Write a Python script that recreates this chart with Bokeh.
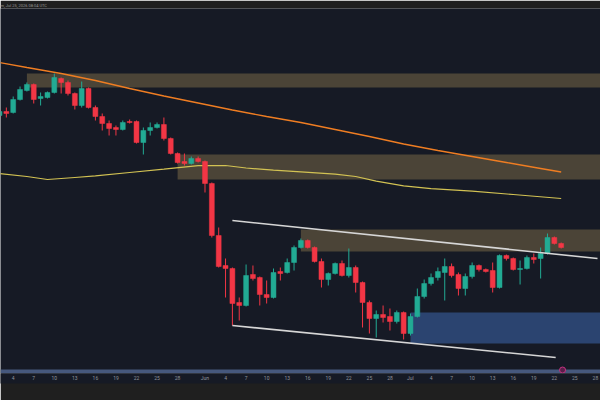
from bokeh.plotting import figure
from bokeh.models import ColumnDataSource, Range1d, FixedTicker
from bokeh.embed import file_html
from bokeh.resources import INLINE

# ---- data (day index: May 1 = 0) ----
days = list(range(1, 84))
opens = [258, 262, 261, 274, 283, 289, 275, 276, 281, 295, 291, 280, 268, 285, 266, 257, 250, 246, 244, 252,
         252, 231, 243, 246, 249, 235, 220, 212, 210, 215, 212, 190, 138, 108, 105, 71, 68, 99, 96, 79,
         76, 102, 101, 111, 126, 133, 126, 112, 94, 100, 110, 98, 106, 91, 71, 55, 59, 57, 52, 61,
         40, 57, 77, 90, 96, 101, 107, 99, 85, 97, 108, 104, 103, 86, 118, 115, 104, 105, 116, 115,
         120, 136, 130]
highs = [265, 266, 277, 287, 291, 290, 281, 282, 300, 296, 293, 281, 292, 286, 268, 260, 253, 248, 253, 254,
         253, 246, 251, 251, 256, 236, 221, 220, 217, 217, 213, 191, 146, 115, 106, 76, 109, 108, 97, 93,
         105, 106, 115, 128, 135, 134, 127, 115, 101, 111, 113, 125, 108, 92, 73, 63, 68, 65, 63, 62,
         60, 85, 94, 100, 106, 115, 110, 101, 100, 111, 109, 105, 111, 119, 119, 116, 113, 118, 120, 126,
         140, 137, 131]
lows = [256, 256, 260, 273, 282, 270, 268, 275, 280, 280, 278, 264, 266, 265, 253, 243, 238, 238, 243, 250,
        230, 219, 238, 245, 233, 219, 210, 208, 209, 211, 181, 136, 106, 76, 48, 53, 67, 93, 68, 70,
        75, 93, 100, 103, 125, 125, 111, 86, 88, 99, 97, 96, 81, 46, 40, 36, 51, 43, 50, 34,
        38, 56, 75, 88, 93, 73, 96, 78, 78, 95, 102, 101, 81, 85, 113, 103, 89, 104, 110, 95,
        119, 129, 125]
closes = [262, 260, 274, 284, 289, 274, 277, 281, 296, 291, 280, 268, 285, 266, 257, 250, 245, 244, 251, 251,
          231, 243, 246, 249, 235, 220, 211, 210, 215, 212, 190, 138, 107, 105, 70, 68, 98, 95, 79, 76,
          101, 100, 111, 126, 133, 126, 112, 94, 100, 110, 98, 106, 91, 71, 55, 59, 56, 52, 61, 40,
          57, 77, 90, 96, 102, 107, 98, 85, 97, 108, 104, 102, 86, 118, 115, 104, 105, 116, 114, 120,
          136, 130, 126]

# moving averages
slow_ma_days = [1, 5, 10, 15, 20, 25, 30, 35, 40, 45, 50, 55, 60, 65, 70, 75, 80, 83]
slow_ma_vals = [311, 306, 300, 293, 285, 277.5, 270.5, 263.5, 257, 251, 244, 237, 229.5, 223, 217, 211, 205, 201.5]
fast_ma_days = [1, 5, 8, 12, 15, 20, 25, 30, 34, 37, 41, 45, 50, 53, 56, 60, 64, 70, 76, 83]
fast_ma_vals = [200, 197, 194, 196, 197.6, 201, 204.3, 207.8, 208, 205.5, 203.3, 201.6, 199.4, 197, 192.4, 187.7,
                184.8, 182.3, 179, 175]

# supply / resistance zones and demand zone
zone_start = [5, 27, 45]
zone_end = [95, 95, 95]
zone_top = [300, 219, 144]
zone_bottom = [286, 194, 122]
demand_start = [61]
demand_end = [95]
demand_top = [61]
demand_bottom = [30]

# channel trend lines
trend_x0 = [35, 35]
trend_y0 = [153, 48]
trend_x1 = [88.3, 82.2]
trend_y1 = [115, 16]

# x axis ticks
tick_days = [3, 6, 9, 12, 15, 18, 21, 24, 27, 31, 34, 37, 40, 43, 46, 49, 52, 55, 58,
             61, 64, 67, 70, 73, 76, 79, 82, 85, 88]
tick_labels = ["4", "7", "10", "13", "16", "19", "22", "25", "28", "Jun", "4", "7", "10", "13", "16", "19",
               "22", "25", "28", "Jul", "4", "7", "10", "13", "16", "19", "22", "25", "28"]

title_text = "m, Jul 25, 2026 08:04 UTC"

NAVY = "#161a25"
GRAY = "#1f1f1f"
UP = "#22ab94"
DOWN = "#f23645"

colors = [UP if c >= o else DOWN for o, c in zip(opens, closes)]
src = ColumnDataSource(dict(
    x=days, o=opens, h=highs, l=lows, c=closes,
    top=[max(o, c) for o, c in zip(opens, closes)],
    bot=[min(o, c) for o, c in zip(opens, closes)],
    color=colors,
))

p = figure(width=600, height=400, output_backend="svg", toolbar_location=None,
           x_range=Range1d(1.146, 88.74), y_range=Range1d(0, 365),
           min_border_left=0, min_border_right=0, min_border_top=8, min_border_bottom=27,
           y_axis_location=None)
p.background_fill_color = NAVY
p.border_fill_color = GRAY
p.outline_line_color = None
p.grid.visible = False

p.title.text = title_text
p.title.text_font = "Roboto"
p.title.text_font_size = "4px"
p.title.text_font_style = "normal"
p.title.text_color = "#9a9a9a"
p.title.align = "left"
p.title.offset = 0
try:
    p.title.standoff = 1
except Exception:
    pass

# zones
p.quad(left=zone_start, right=zone_end, top=zone_top, bottom=zone_bottom,
       fill_color="#4b4437", fill_alpha=1.0, line_color=None)
p.quad(left=demand_start, right=demand_end, top=demand_top, bottom=demand_bottom,
       fill_color="#2b4470", fill_alpha=1.0, line_color=None)

# bottom price band
p.hspan(y=[2], line_color="#46587d", line_width=4)

# moving averages
p.line(slow_ma_days, slow_ma_vals, line_color="#ef7d22", line_width=1.4)
p.line(fast_ma_days, fast_ma_vals, line_color="#d2c253", line_width=1.2)

# candles
p.segment(x0="x", y0="l", x1="x", y1="h", color="color", line_width=1, source=src)
p.vbar(x="x", width=0.72, top="top", bottom="bot", fill_color="color", line_color="color",
       line_width=0.5, source=src)

# channel lines
p.segment(x0=trend_x0, y0=trend_y0, x1=trend_x1, y1=trend_y1, line_color="#d6d6d6", line_width=1.6)

# event marker
p.scatter(x=[83.2], y=[3.5], size=6, fill_color="#5a1f4a", line_color="#c2337f", line_width=1)

ax = p.xaxis[0]
ax.ticker = FixedTicker(ticks=tick_days)
ax.major_label_overrides = {d: t for d, t in zip(tick_days, tick_labels)}
ax.major_label_text_font = "Roboto"
ax.major_label_text_font_size = "5px"
ax.major_label_text_color = "#8f939c"
ax.major_label_standoff = 1
ax.major_tick_out = 0
ax.major_tick_in = 0
ax.minor_tick_out = 0
ax.minor_tick_in = 0
ax.axis_line_color = None
try:
    ax.background_fill_color = NAVY
except Exception:
    pass

open("out.html", "w").write(file_html(p, INLINE))
